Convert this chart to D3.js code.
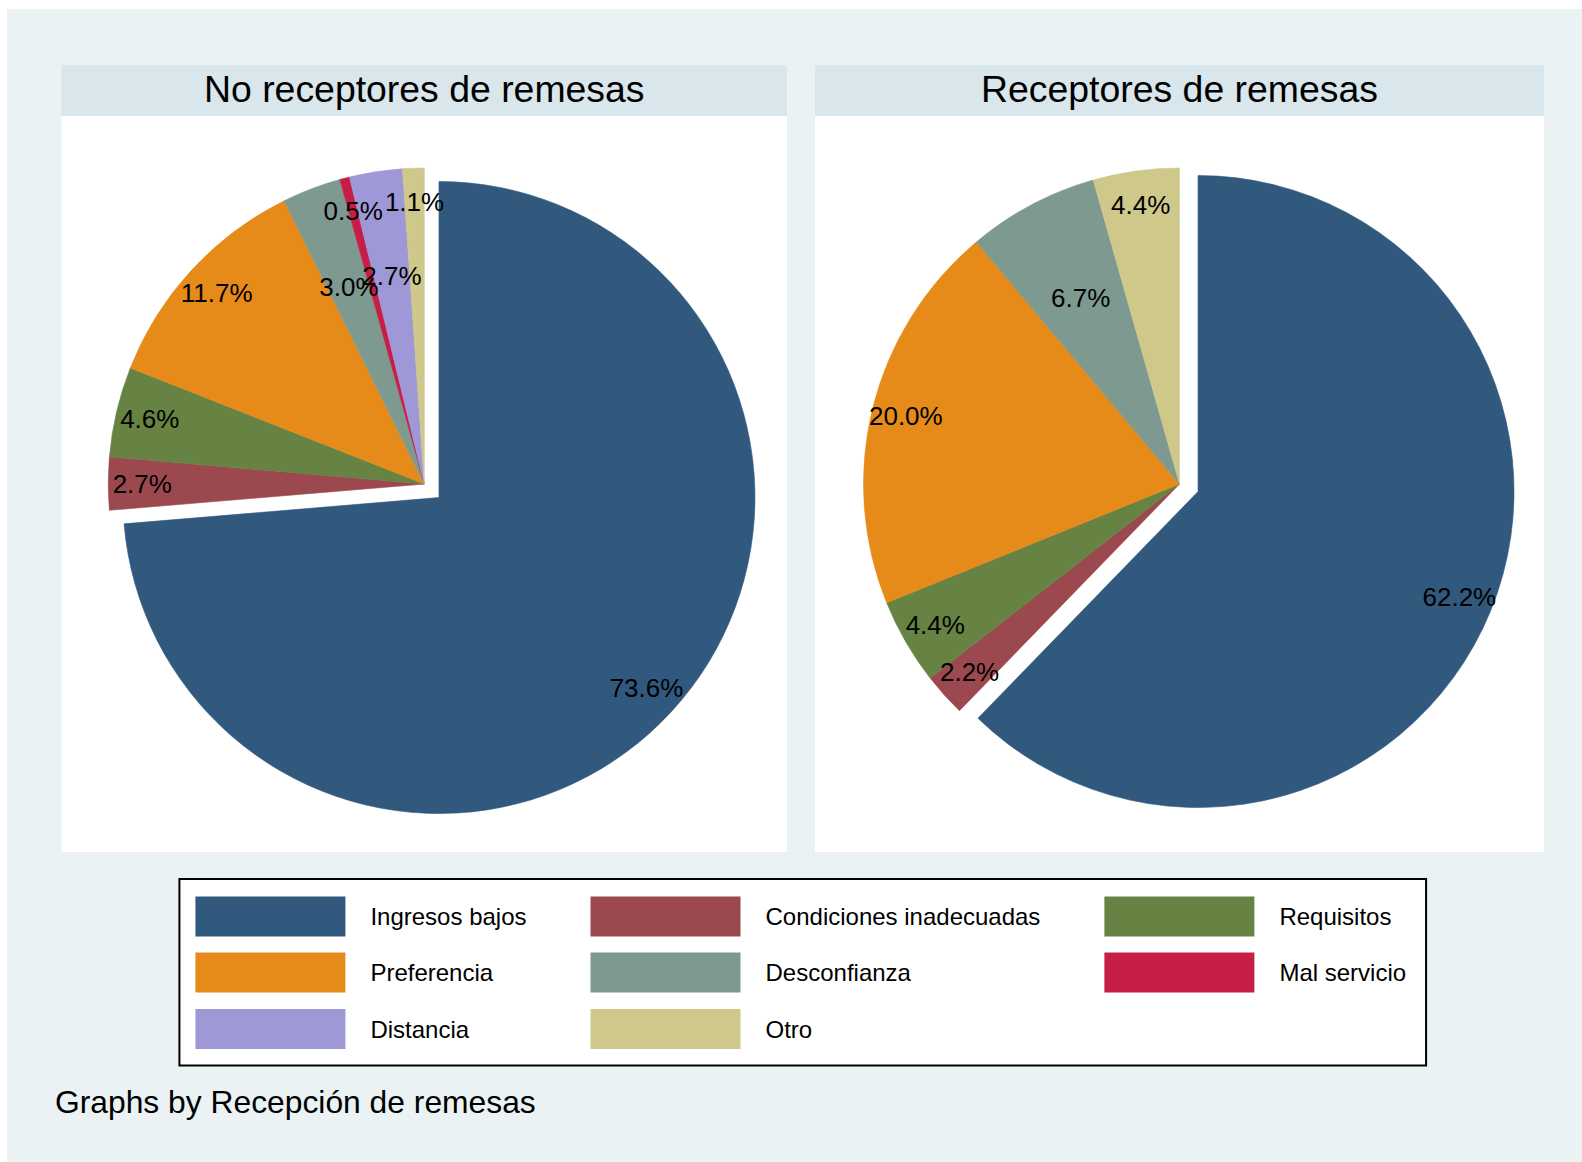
<!DOCTYPE html>
<html>
<head>
<meta charset="utf-8">
<script src="https://cdn.jsdelivr.net/npm/d3@7"></script>
<style>
  body { margin: 0; background: #fff; }
  svg text { font-family: "Liberation Sans", Arial, sans-serif; fill: #000; }
</style>
</head>
<body>
<svg id="chart" width="1582" height="1162"></svg>
<script>
// Categories in slice order (clockwise from 12 o'clock)
const categories = ["Ingresos bajos", "Condiciones inadecuadas", "Requisitos", "Preferencia",
                    "Desconfianza", "Mal servicio", "Distancia", "Otro"];

// Percentages per group
const noReceptores = [73.6, 2.7, 4.6, 11.7, 3.0, 0.5, 2.7, 1.1];
const receptores = [62.2, 2.2, 4.4, 20.0, 6.7, 0, 0, 4.4];

const panelTitles = ["No receptores de remesas", "Receptores de remesas"];

// Legend order (3 columns, row by row)
const legendOrder = ["Ingresos bajos", "Condiciones inadecuadas", "Requisitos",
                     "Preferencia", "Desconfianza", "Mal servicio",
                     "Distancia", "Otro"];

const colors = ["#31597d", "#9b494f", "#668344", "#e68b1a",
                "#7d9990", "#c71e48", "#9e98d6", "#cfc88b"];

// categories whose labels sit closer to the centre
const innerLabels = ["Desconfianza", "Distancia"];

const color = d3.scaleOrdinal().domain(categories).range(colors);

const svg = d3.select("#chart");

// Outer graph background
svg.append("rect")
    .attr("x", 7).attr("y", 9)
    .attr("width", 1575).attr("height", 1153)
    .attr("fill", "#eaf2f3");

// Panel geometry
const panels = [
    { x0: 61.5, x1: 787, data: noReceptores, title: panelTitles[0] },
    { x0: 815, x1: 1544, data: receptores, title: panelTitles[1] }
];
const titleTop = 65, titleBottom = 116, plotBottom = 852;
const radius = 316, explode = 20, labelRadius = 282, innerRadius = 211;

const pie = d3.pie().sort(null).value(d => d.value);
const arc = d3.arc().innerRadius(0).outerRadius(radius);

panels.forEach(p => {
    const g = svg.append("g");

    // Title bar
    g.append("rect")
        .attr("x", p.x0).attr("y", titleTop)
        .attr("width", p.x1 - p.x0).attr("height", titleBottom - titleTop)
        .attr("fill", "#d9e6eb");
    g.append("text")
        .attr("x", (p.x0 + p.x1) / 2)
        .attr("y", 88.5)
        .attr("text-anchor", "middle")
        .attr("dominant-baseline", "central")
        .attr("font-size", 37.4)
        .text(p.title);

    // Plot region
    g.append("rect")
        .attr("x", p.x0).attr("y", titleBottom)
        .attr("width", p.x1 - p.x0).attr("height", plotBottom - titleBottom)
        .attr("fill", "#ffffff");

    const cx = (p.x0 + p.x1) / 2;
    const cy = (titleBottom + plotBottom) / 2;

    const arcs = pie(categories.map((c, i) => ({ name: c, value: p.data[i] })));

    const pieG = g.append("g").attr("transform", `translate(${cx},${cy})`);

    // offset of a slice (first slice exploded)
    const shift = (d, i) => {
        const a = (d.startAngle + d.endAngle) / 2;
        const e = i === 0 ? explode : 0;
        return [Math.sin(a) * e, -Math.cos(a) * e];
    };
    const labR = d => innerLabels.includes(d.data.name) ? innerRadius : labelRadius;

    pieG.selectAll("path")
        .data(arcs.filter(d => d.value > 0))
        .enter().append("path")
        .attr("transform", d => {
            const s = shift(d, d.index);
            return `translate(${s[0]},${s[1]})`;
        })
        .attr("d", arc)
        .attr("fill", d => color(d.data.name))
        .attr("stroke", d => color(d.data.name))
        .attr("stroke-width", 0.6);

    // Percent labels
    pieG.selectAll("text")
        .data(arcs.filter(d => d.value > 0))
        .enter().append("text")
        .attr("x", d => {
            const a = (d.startAngle + d.endAngle) / 2;
            return shift(d, d.index)[0] + Math.sin(a) * labR(d);
        })
        .attr("y", d => {
            const a = (d.startAngle + d.endAngle) / 2;
            return shift(d, d.index)[1] - Math.cos(a) * labR(d);
        })
        .attr("text-anchor", "middle")
        .attr("dominant-baseline", "central")
        .attr("font-size", 26)
        .text(d => d3.format(".1f")(d.value) + "%");
});

// Legend
const sw = 150, sh = 40, swGap = 25, colGap = 64, padL = 16, padR = 20;
const rowY = [916.5, 972.5, 1029];
const legTop = 879, legBottom = 1065.5;
const nCols = 3;

const legend = svg.append("g");
const box = legend.append("rect")
    .attr("y", legTop).attr("height", legBottom - legTop)
    .attr("fill", "#ffffff").attr("stroke", "#000").attr("stroke-width", 2);

// measure text widths per column
const items = legend.selectAll(".item")
    .data(legendOrder)
    .enter().append("g").attr("class", "item");

const labels = items.append("text")
    .attr("font-size", 24)
    .attr("dominant-baseline", "central")
    .text(d => d);

const colWidths = d3.range(nCols).map(c =>
    d3.max(labels.nodes().filter((n, i) => i % nCols === c), n => n.getComputedTextLength()));

const colX = [];
let acc = padL;
colWidths.forEach((w, c) => { colX.push(acc); acc += sw + swGap + w + colGap; });
const legWidth = acc - colGap + padR;
const legLeft = (61.5 + 1544) / 2 - legWidth / 2;

box.attr("x", legLeft).attr("width", legWidth);

items.attr("transform", (d, i) =>
    `translate(${legLeft + colX[i % nCols]},${rowY[Math.floor(i / nCols)]})`);

items.insert("rect", "text")
    .attr("x", 0).attr("y", -sh / 2)
    .attr("width", sw).attr("height", sh)
    .attr("fill", d => color(d));

labels.attr("x", sw + swGap);

// Note
svg.append("text")
    .attr("x", 55)
    .attr("y", 1113)
    .attr("font-size", 31.8)
    .text("Graphs by Recepción de remesas");
</script>
</body>
</html>
